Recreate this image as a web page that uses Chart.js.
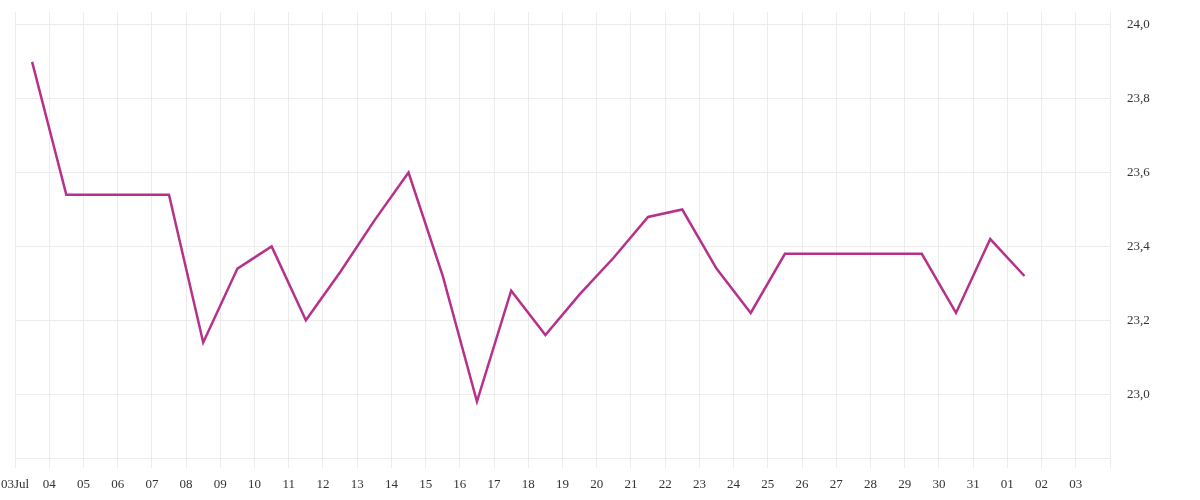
<!DOCTYPE html>
<html>
<head>
<meta charset="utf-8">
<script src="https://cdn.jsdelivr.net/npm/chart.js@4/dist/chart.umd.min.js"></script>
<style>
  html, body { margin: 0; padding: 0; background: #fff; }
  #wrap { width: 1200px; height: 500px; }
</style>
</head>
<body>
<div id="wrap"><canvas id="chart" width="1200" height="500"></canvas></div>
<script>
// day labels, 03 Jul .. 03 Aug (one per gridline), last gridline = 04 Aug unlabeled
const dayLabels = ['03Jul', '04', '05', '06', '07', '08', '09', '10', '11', '12', '13',
  '14', '15', '16', '17', '18', '19', '20', '21', '22', '23', '24', '25', '26', '27',
  '28', '29', '30', '31', '01', '02', '03', ''];

// readings taken at midday, offset in days from 03 Jul 00:00
const readingDays = [0.5, 1.5, 2.5, 3.5, 4.5, 5.5, 6.5, 7.5, 8.5, 9.5, 10.5, 11.5,
  12.5, 13.5, 14.5, 15.5, 16.5, 17.5, 18.5, 19.5, 20.5, 21.5, 22.5, 23.5, 24.5,
  25.5, 26.5, 27.5, 28.5, 29.5];
const readingValues = [23.90, 23.54, 23.54, 23.54, 23.54, 23.14, 23.34, 23.40, 23.20,
  23.33, 23.47, 23.60, 23.32, 22.98, 23.28, 23.16, 23.27, 23.37, 23.48, 23.50,
  23.34, 23.22, 23.38, 23.38, 23.38, 23.38, 23.38, 23.22, 23.42, 23.32];

const yTicks = [23.0, 23.2, 23.4, 23.6, 23.8, 24.0];

const FONT = { family: '"Liberation Serif", "DejaVu Serif", serif', size: 13 };
const GRID = '#ececec';

const points = readingDays.map((d, i) => ({ x: d, y: readingValues[i] }));

new Chart(document.getElementById('chart'), {
  type: 'line',
  data: {
    datasets: [{
      data: points,
      borderColor: '#b5318c',
      borderWidth: 2.5,
      pointRadius: 0,
      tension: 0,
      fill: false
    }]
  },
  options: {
    responsive: false,
    animation: false,
    layout: { padding: { top: 12, left: 0, right: 0, bottom: 0 } },
    plugins: { legend: { display: false }, tooltip: { enabled: false } },
    scales: {
      x: {
        type: 'linear',
        min: 0,
        max: dayLabels.length - 1,
        afterBuildTicks: s => { s.ticks = dayLabels.map((_, i) => ({ value: i })); },
        ticks: {
          autoSkip: false,
          maxRotation: 0,
          color: '#333',
          font: FONT,
          padding: 9,
          callback: v => dayLabels[v] ?? ''
        },
        grid: { color: GRID, lineWidth: 1, tickLength: 10, tickColor: GRID },
        border: { color: GRID },
        afterFit: s => { s.height = 42; s.paddingLeft = 15; s.paddingRight = 0; }
      },
      y: {
        position: 'right',
        min: 22.827,
        max: 24.035,
        afterBuildTicks: s => { s.ticks = yTicks.map(v => ({ value: v })); },
        ticks: {
          color: '#333',
          font: FONT,
          padding: 17,
          callback: v => v.toFixed(1).replace('.', ',')
        },
        grid: { color: GRID, lineWidth: 1, drawTicks: false },
        border: { color: GRID },
        afterFit: s => { s.width = 90; s.paddingTop = 0; s.paddingBottom = 0; }
      }
    }
  }
});
</script>
</body>
</html>
